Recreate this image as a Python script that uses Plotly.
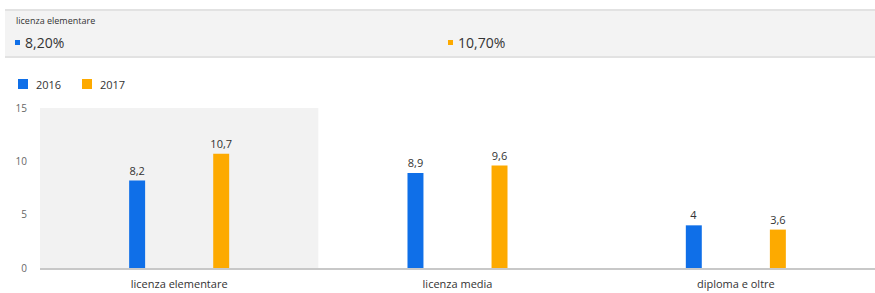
import plotly.graph_objects as go

categories = ["licenza elementare", "licenza media", "diploma e oltre"]
series_names = ["2016", "2017"]
values_2016 = [8.2, 8.9, 4.0]
values_2017 = [10.7, 9.6, 3.6]
y_ticks = [0, 5, 10, 15]

W, H = 875, 293
BLUE = "#0f6fe8"
ORANGE = "#fdaa00"
FONT = "Open Sans"
colors = [BLUE, ORANGE]

def px(x):
    return x / W

def py(y):
    return 1 - y / H

fig = go.Figure()
for name, vals, col in zip(series_names, [values_2016, values_2017], colors):
    fig.add_trace(go.Bar(
        x=categories, y=vals, name=name, marker=dict(color=col, line=dict(width=0)),
        texttemplate="%{y}", textposition="outside", cliponaxis=False, constraintext="none",
        textfont=dict(size=11, color="#333333", family=FONT), showlegend=False,
    ))

shapes = [
    dict(type="rect", xref="x", yref="y", x0=-0.5, x1=0.5, y0=0, y1=15,
         fillcolor="#f2f2f2", line=dict(width=0), layer="below"),
    dict(type="rect", xref="paper", yref="paper", x0=px(5), x1=1, y0=py(57), y1=py(10),
         fillcolor="#f3f3f3", line=dict(width=0), layer="below"),
    dict(type="line", xref="paper", yref="paper", x0=px(5), x1=1, y0=py(10), y1=py(10),
         line=dict(color="#e2e2e2", width=2)),
    dict(type="line", xref="paper", yref="paper", x0=px(5), x1=1, y0=py(57), y1=py(57),
         line=dict(color="#e2e2e2", width=2)),
    dict(type="rect", xref="paper", yref="paper", x0=px(15), x1=px(20), y0=py(45), y1=py(40),
         fillcolor=BLUE, line=dict(width=0)),
    dict(type="rect", xref="paper", yref="paper", x0=px(448), x1=px(453), y0=py(45), y1=py(40),
         fillcolor=ORANGE, line=dict(width=0)),
]

def pct(v):
    return f"{v:.2f}%".replace(".", ",")

annotations = [
    dict(text=categories[0], xref="paper", yref="paper", x=px(14), y=py(20), xanchor="left",
         yanchor="middle", showarrow=False, font=dict(size=9, color="#333333", family=FONT)),
    dict(text=pct(values_2016[0]), xref="paper", yref="paper", x=px(23), y=py(42), xanchor="left",
         yanchor="middle", showarrow=False, font=dict(size=14, color="#333333", family=FONT)),
    dict(text=pct(values_2017[0]), xref="paper", yref="paper", x=px(456), y=py(42), xanchor="left",
         yanchor="middle", showarrow=False, font=dict(size=14, color="#333333", family=FONT)),
]

# custom legend
legend_x = [18, 82]
for lx, name, col in zip(legend_x, series_names, colors):
    shapes.append(dict(type="rect", xref="paper", yref="paper", x0=px(lx), x1=px(lx + 10),
                       y0=py(89), y1=py(79), fillcolor=col, line=dict(width=0)))
    annotations.append(dict(text=name, xref="paper", yref="paper", x=px(lx + 16), y=py(84),
                            xanchor="left", yanchor="middle", showarrow=False,
                            font=dict(size=11, color="#333333", family=FONT)))

fig.update_layout(
    width=W, height=H, autosize=False,
    margin=dict(l=0, r=0, t=0, b=0, pad=0),
    paper_bgcolor="white", plot_bgcolor="white",
    separators=",.",
    barmode="group", bargap=0.396, bargroupgap=0.81,
    font=dict(family=FONT, size=11, color="#333333"),
    showlegend=False,
    xaxis=dict(domain=[px(40), 1], showgrid=False, showline=True, linecolor="#c8c8c8", linewidth=2,
               ticks="", automargin=False, ticklabelstandoff=5,
               tickfont=dict(size=11, color="#333333", family=FONT), fixedrange=True),
    yaxis=dict(domain=[py(268), py(108)], range=[0, 15], tickvals=y_ticks, showgrid=False,
               zeroline=False, showline=False, ticks="", automargin=False, ticklabelstandoff=12,
               tickfont=dict(size=10, color="#666666", family=FONT), fixedrange=True),
    shapes=shapes, annotations=annotations,
)

post = (
    "var s=document.createElement('style');"
    "s.textContent='html,body{margin:0!important;padding:0!important;overflow:hidden!important;"
    "width:875px;height:293px;} body>div{margin:0;padding:0;height:293px;}';"
    "document.head.appendChild(s);"
    "var g=document.getElementById('{plot_id}');"
    "g.style.position='absolute';g.style.top='0px';g.style.left='0px';"
)

fig.write_html("out.html", post_script=post, config={"displayModeBar": False})
